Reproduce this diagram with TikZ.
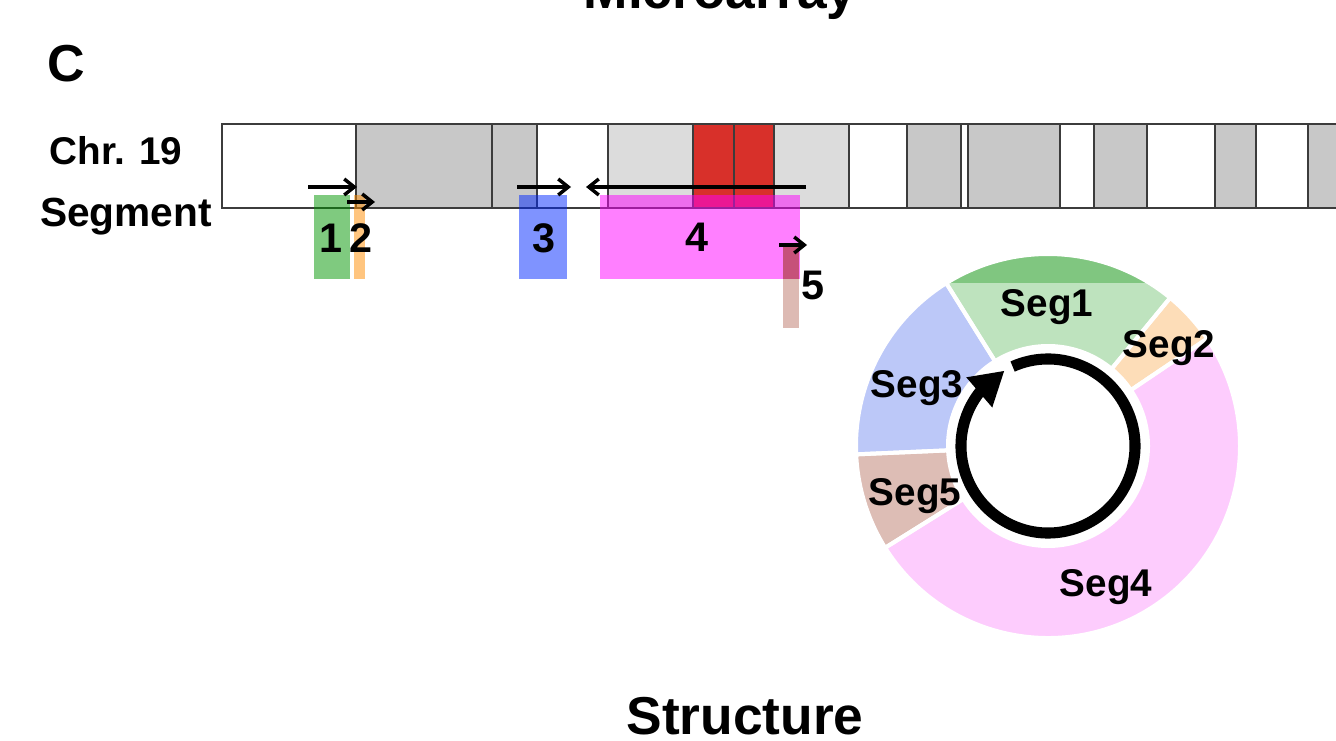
\documentclass[tikz,border=0pt]{standalone}
\usepackage{fontspec}
\setmainfont{Liberation Sans}
\usetikzlibrary{arrows.meta,calc,bending}
\definecolor{bandline}{HTML}{3C3C3C}
\definecolor{greyband}{HTML}{C8C8C8}
\definecolor{lightband}{HTML}{DCDCDC}
\definecolor{redband}{HTML}{D8302A}
\definecolor{segA}{RGB}{0,150,0}
\definecolor{segB}{RGB}{255,140,0}
\definecolor{segC}{RGB}{0,40,255}
\definecolor{segD}{RGB}{255,0,255}
\definecolor{segEtop}{HTML}{C6517A}
\definecolor{segEbot}{HTML}{DDBAB3}
\definecolor{dOne}{HTML}{BEE3BE}
\definecolor{dOneDark}{HTML}{80C680}
\definecolor{dTwo}{HTML}{FDDDB8}
\definecolor{dThree}{HTML}{BCC8F8}
\definecolor{dFour}{HTML}{FDCCFD}
\definecolor{dFive}{HTML}{DDBDB5}
\newcommand{\annseg}[2]{($(dc)+(#1:192)$) arc[start angle=#1,end angle=#2,radius=192] -- ($(dc)+(#2:100)$) arc[start angle=#2,end angle=#1,radius=100] -- cycle}
\begin{document}
\begin{tikzpicture}[x=0.75pt,y=0.75pt,
  sep/.style={draw=bandline,line width=1.1pt},
  thicksep/.style={draw=bandline,line width=2.2pt},
  segbox/.style={opacity=0.5},
  arr/.style={draw=black,line width=2.6pt,-{Straight Barb[length=7.5pt,width=12pt,line width=2.6pt]}},
  big/.style={inner sep=0pt,anchor=base,font=\bfseries\fontsize{40pt}{42pt}\selectfont},
  side/.style={inner sep=0pt,anchor=base,font=\bfseries\fontsize{29pt}{31pt}\selectfont},
  num/.style={inner sep=0pt,anchor=base,font=\bfseries\fontsize{31pt}{33pt}\selectfont},
  seglbl/.style={inner sep=0pt,anchor=base,font=\bfseries\fontsize{29pt}{30pt}\selectfont},
  wedgeborder/.style={draw=white,line width=3pt}]
\useasboundingbox (0,0) rectangle (1336,740);
\clip (0,0) rectangle (1336,740);
\fill[white] (0,0) rectangle (1336,740);

% titles
\node[big] (micro) at (720,731) {Microarray};
\node[big,font=\bfseries\fontsize{39pt}{41pt}\selectfont] (panel) at (66,658) {C};
\node[big] (struct) at (745,6) {Structure};
\node[side] (chr) at (116,575) {Chr. 19};
\node[side,font=\bfseries\fontsize{30.5pt}{32pt}\selectfont] (segm) at (126,513) {Segment};

% chromosome bands
\fill[white] (222,532) rectangle (1345,616);
\foreach \a/\b in {356/492,492/537,907/961,968/1060,1094/1147,1215/1256,1308/1345}
  \fill[greyband] (\a,532) rectangle (\b,616);
\foreach \a/\b in {608/693,774/849}
  \fill[lightband] (\a,532) rectangle (\b,616);
\fill[redband] (693,532) rectangle (774,616);
\foreach \x in {356,537,608,693,734,774,849,907,961,968,1060,1094,1147,1215,1256,1308}
  \draw[sep] (\x,532) -- (\x,616);
\draw[thicksep] (492,532) -- (492,616);
\draw[draw=bandline,line width=1.5pt] (1345,532) -- (222,532) -- (222,616) -- (1345,616);

% segment boxes
\fill[segbox,segA] (314,461) rectangle (350,545);
\fill[segbox,segB] (354,461) rectangle (365,545);
\fill[segbox,segC] (519,461) rectangle (567,545);
\fill[segbox,segD] (600,461) rectangle (800,545);
\fill[segEtop] (783,461) rectangle (799,494);
\fill[segEbot] (783,412) rectangle (799,461);

% segment numbers
\node[num] (n1) at (331,487) {1};
\node[num] (n2) at (361,487) {2};
\node[num] (n3) at (544,487) {3};
\node[num] (n4) at (697,488) {4};
\node[num] (n5) at (813,440) {5};

% direction arrows
\coordinate (a1s) at (308,553); \coordinate (a1e) at (357,553);
\coordinate (a2s) at (347,538); \coordinate (a2e) at (375,538);
\coordinate (a3s) at (517,553); \coordinate (a3e) at (571,553);
\coordinate (a4s) at (806,553); \coordinate (a4e) at (586,553);
\coordinate (a5s) at (779,495); \coordinate (a5e) at (807,495);
\draw[arr] (a1s) -- (a1e);
\draw[arr] (a2s) -- (a2e);
\draw[arr] (a3s) -- (a3e);
\draw[arr] (a4s) -- (a4e);
\draw[arr] (a5s) -- (a5e);

% donut
\coordinate (dc) at (1048,294);
\fill[dFour] \annseg{-148}{34};
\fill[dTwo] \annseg{34}{50.5};
\fill[dOne] \annseg{50.5}{122};
\begin{scope}
  \clip (0,457) rectangle (1336,740);
  \fill[dOneDark] \annseg{50.5}{122};
\end{scope}
\fill[dThree] \annseg{122}{182.5};
\fill[dFive] \annseg{182.5}{212};
\foreach \a/\b in {-148/34,34/50.5,50.5/122,122/182.5,182.5/212}
  \draw[wedgeborder] \annseg{\a}{\b};

\node[seglbl] (s1) at (1047,423) {Seg1};
\node[seglbl] (s2) at (1169,382) {Seg2};
\node[seglbl] (s3) at (917,342) {Seg3};
\node[seglbl] (s5) at (915,234) {Seg5};
\node[seglbl] (s4) at (1106,144) {Seg4};

\draw[line width=8.3pt,-{Triangle[length=25pt,width=28pt]}] ($(dc)+(114:87)$) arc[start angle=114,end angle=-240,radius=87];
\end{tikzpicture}
\end{document}
